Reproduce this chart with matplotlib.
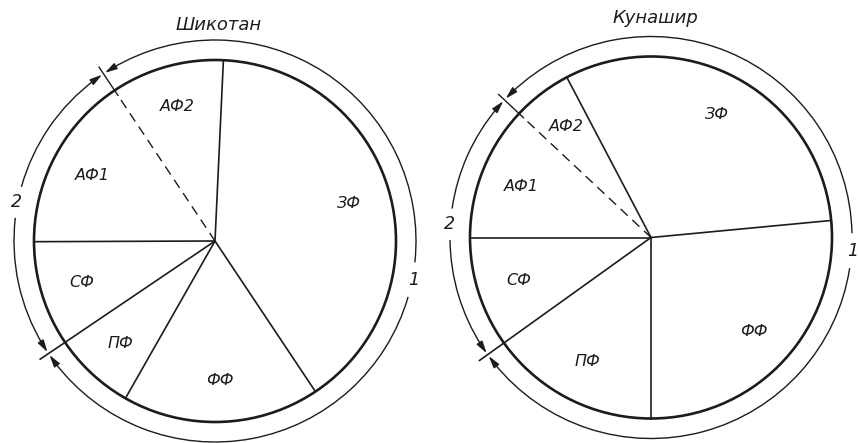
import numpy as np
import matplotlib
matplotlib.use("Agg")
import matplotlib.pyplot as plt
from matplotlib.patches import Arc, Circle

# доли фракций, % (по кругу против часовой стрелки, начиная с ЗФ)
names = ['ЗФ', 'АФ2', 'АФ1', 'СФ', 'ПФ', 'ФФ']
shikotan = [39.9, 10.1, 15.7, 9.4, 7.3, 17.6]
kunashir = [31.2, 5.3, 12.0, 9.9, 15.1, 26.5]
titles = ['Шикотан', 'Кунашир']
group_labels = ['1', '2']

INK = '#1c1c1c'
R, RO = 181, 201


def pt(cx, cy, ang, r):
    a = np.deg2rad(ang)
    return cx + r * np.cos(a), cy + r * np.sin(a)


def arrow(ax, cx, cy, tip, back):
    ax.annotate('', xy=pt(cx, cy, tip, RO), xytext=pt(cx, cy, back, RO),
                arrowprops=dict(arrowstyle='-|>,head_length=0.9,head_width=0.25',
                                mutation_scale=8, lw=1.0, color=INK,
                                shrinkA=0, shrinkB=0))


def group_arc(ax, cx, cy, t1, t2, label, gap):
    mid = (t1 + t2) / 2
    for s, e in [(t1 + 3, mid - gap), (mid + gap, t2 - 3)]:
        ax.add_patch(Arc((cx, cy), 2 * RO, 2 * RO, theta1=s, theta2=e,
                         lw=1.0, color=INK))
    arrow(ax, cx, cy, t1 + 0.5, t1 + 3.2)
    arrow(ax, cx, cy, t2 - 0.5, t2 - 3.2)
    x, y = pt(cx, cy, mid, RO + 1)
    ax.text(x, y, label, fontsize=12.5, style='italic', color=INK,
            ha='center', va='center')


def draw(ax, values, title, cx, cy, start, ty):
    wedges, texts = ax.pie(values, labels=names, startangle=start,
                           center=(cx, cy), radius=R, labeldistance=0.77,
                           wedgeprops=dict(linewidth=0, facecolor='white'),
                           textprops=dict(fontsize=11.5, style='italic', color=INK))
    for t in texts:
        t.set_ha('center')
        t.set_va('center')
    ax.add_patch(Circle((cx, cy), R, fill=False, lw=1.9, ec=INK, zorder=3))

    top = wedges[2].theta1   # граница АФ2 / АФ1
    bot = wedges[4].theta1   # граница СФ / ПФ
    for i, w in enumerate(wedges):
        a = w.theta1
        if i == 2:
            ax.plot(*zip(pt(cx, cy, a, 0), pt(cx, cy, a, R - 6)), color=INK,
                    lw=1.0, linestyle=(0, (7, 4.5)))
            ax.plot(*zip(pt(cx, cy, a, R - 6), pt(cx, cy, a, RO + 8)),
                    color=INK, lw=1.0)
        elif i == 4:
            ax.plot(*zip(pt(cx, cy, a, 0), pt(cx, cy, a, RO + 10)),
                    color=INK, lw=1.2)
        else:
            ax.plot(*zip(pt(cx, cy, a, 0), pt(cx, cy, a, R)), color=INK, lw=1.2)

    group_arc(ax, cx, cy, bot, top + 360, group_labels[0], 5)
    group_arc(ax, cx, cy, top, bot, group_labels[1], 4.5)
    ax.text(cx + 4, ty, title, fontsize=13, style='italic', color=INK,
            ha='center', va='center')


fig = plt.figure(figsize=(8.58, 4.43), dpi=100)
ax = fig.add_axes([0, 0, 1, 1])

draw(ax, shikotan, titles[0], 215, 202, -56.3, 418)
draw(ax, kunashir, titles[1], 651, 205.5, 5.4, 425)

ax.set_aspect('equal')
ax.set_xlim(0, 858)
ax.set_ylim(0, 443)
ax.axis('off')

fig.savefig('out.png', dpi=100, facecolor='white')
